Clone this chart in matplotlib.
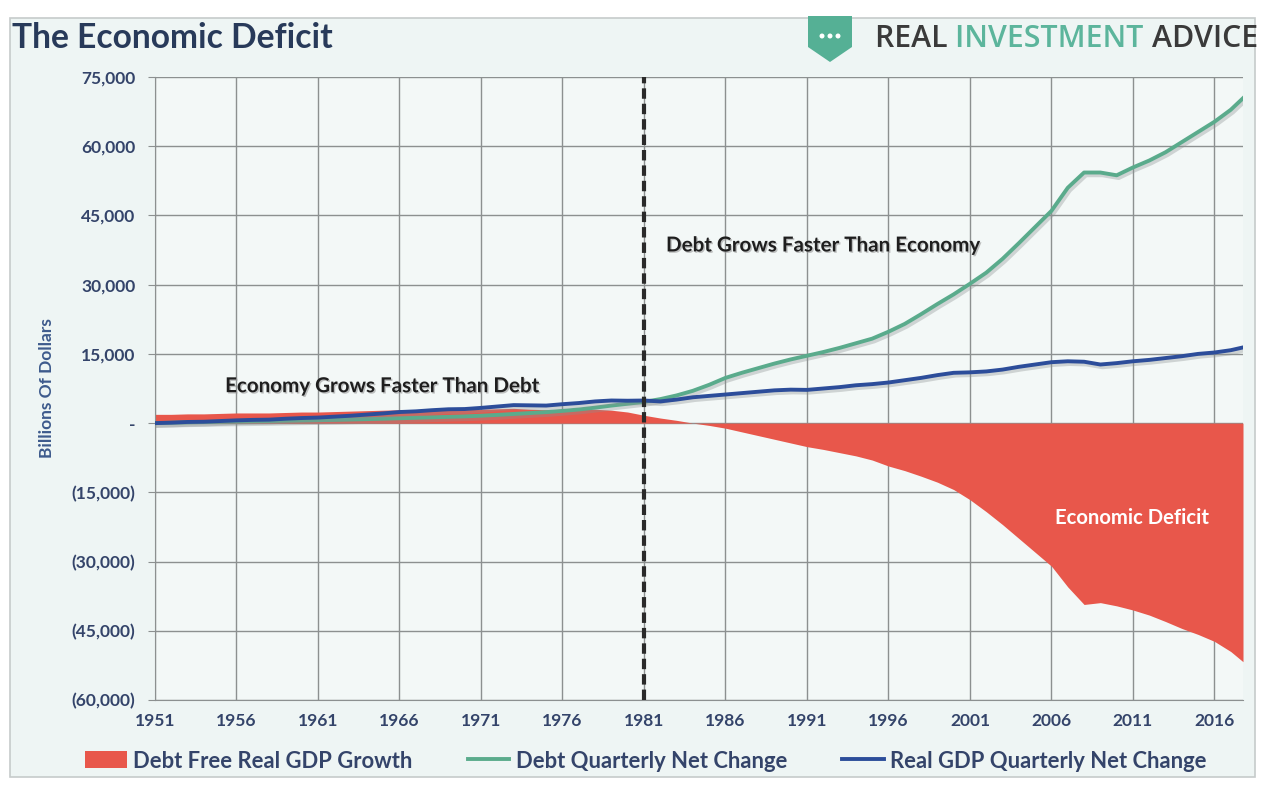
import matplotlib
matplotlib.use("Agg")
import matplotlib.pyplot as plt
import matplotlib.patheffects as pe
from matplotlib.patches import Rectangle, Polygon, Ellipse, Patch
from matplotlib.lines import Line2D
from matplotlib.ticker import FuncFormatter

# Decimal years (last point is the partial year)
years = list(range(1951, 2018)) + [2017.75]

# Billions of dollars, cumulative change since 1951
debt_change = [
    0, 80, 160, 230, 300, 350, 400, 450, 520, 580,
    640, 700, 780, 860, 950, 1050, 1150, 1250, 1360, 1460,
    1600, 1780, 1980, 2180, 2380, 2650, 2950, 3350, 3800, 4200,
    4600, 5200, 6000, 7000, 8300, 9800, 10900, 11900, 12900, 13800,
    14600, 15400, 16300, 17300, 18300, 19800, 21500, 23600, 25800, 27900,
    30200, 32600, 35600, 39000, 42500, 46000, 51000, 54300, 54300, 53700,
    55400, 56900, 58700, 60900, 63100, 65300, 67900, 70400,
]
gdp_change = [
    0, 100, 250, 300, 450, 600, 700, 750, 950, 1100,
    1200, 1400, 1600, 1850, 2100, 2400, 2550, 2800, 3000, 3050,
    3300, 3600, 3900, 3850, 3800, 4100, 4350, 4700, 4900, 4850,
    4900, 4700, 5100, 5600, 5900, 6200, 6500, 6800, 7100, 7250,
    7200, 7500, 7800, 8200, 8450, 8800, 9300, 9800, 10400, 10900,
    11000, 11200, 11600, 12200, 12700, 13200, 13400, 13300, 12700, 13000,
    13400, 13700, 14100, 14500, 15000, 15300, 15800, 16400,
]
debt_free_gdp = [
    1900, 1900, 2000, 2000, 2100, 2200, 2200, 2200, 2300, 2400,
    2400, 2500, 2600, 2700, 2800, 2900, 2900, 3000, 3000, 2900,
    3000, 3100, 3200, 3000, 2900, 3000, 3000, 3000, 2800, 2400,
    1700, 1100, 600, 0, -500, -1100, -1900, -2700, -3500, -4300,
    -5100, -5700, -6400, -7100, -8000, -9300, -10300, -11500, -12800, -14400,
    -16600, -19200, -22000, -25000, -28000, -31000, -35500, -39300, -38900, -39600,
    -40500, -41600, -43000, -44500, -45800, -47300, -49500, -51700,
]

tick_years = list(range(1951, 2017, 5))
y_ticks = list(range(-60000, 75001, 15000))

RED = "#e8574b"
GREEN = "#5aab8c"
BLUE = "#2c4d9a"
NAVY = "#34446a"

plt.rcParams['font.family'] = ['Lato', 'DejaVu Sans']

W, H = 1263, 787
fig = plt.figure(figsize=(W / 100, H / 100), dpi=100, facecolor="white")


def px(x, y):
    return x / W, 1 - y / H


# background panel
fig.add_artist(Rectangle(px(10, 777), 1245 / W, 759 / H, transform=fig.transFigure,
                         facecolor="#eef5f4", edgecolor="#c6cbcb", lw=1.2, zorder=0))

l, b = px(155, 700)
r, t = px(1243, 77)
ax = fig.add_axes([l, b, r - l, t - b])
ax.set_facecolor("#f3f8f7")

ax.fill_between(years, debt_free_gdp, 0, color=RED, lw=0, zorder=2)
shadow = [pe.SimpleLineShadow(offset=(1.5, -2), shadow_color="#8a9090", alpha=0.35), pe.Normal()]
ax.plot(years, debt_change, color=GREEN, lw=2.8, zorder=3, path_effects=shadow)
ax.plot(years, gdp_change, color=BLUE, lw=2.8, zorder=4, path_effects=shadow)

ax.axvline(1981, color="#2a2a2a", lw=3, ls=(0, (2.5, 1.2)), zorder=5)

ax.set_xlim(1951, 2017.75)
ax.set_ylim(-60000, 75000)
ax.set_xticks(tick_years)
ax.set_yticks(y_ticks)


def acct(v, pos):
    if v == 0:
        return "-"
    if v < 0:
        return "({:,.0f})".format(-v)
    return "{:,.0f}".format(v)


ax.yaxis.set_major_formatter(FuncFormatter(acct))
ax.grid(True, color="#8c9090", lw=1.0, zorder=1)
ax.set_axisbelow(True)
for s in ["top", "right"]:
    ax.spines[s].set_visible(False)
for s in ["left", "bottom"]:
    ax.spines[s].set_color("#8c9090")
ax.tick_params(axis="x", length=0, pad=9, labelsize=12.5, labelcolor=NAVY)
ax.tick_params(axis="y", length=5, color="#8c9090", pad=9, labelsize=12.5, labelcolor=NAVY)
for lab in ax.get_xticklabels() + ax.get_yticklabels():
    lab.set_fontweight("bold")

fig.text(*px(47, 388), "Billions Of Dollars", rotation=90, ha="center", va="center",
         fontsize=12.5, fontweight="bold", color="#3d5a8c")

# annotations
txt_shadow = [pe.withSimplePatchShadow(offset=(1, -1), shadow_rgbFace="#9a9a9a", alpha=0.6)]
ax.text(1955.3, 8000, "Economy Grows Faster Than Debt", fontsize=14.8, fontweight="bold",
        color="#1e1e1e", va="center", path_effects=txt_shadow, zorder=6)
ax.text(1982.35, 38500, "Debt Grows Faster Than Economy", fontsize=14.8, fontweight="bold",
        color="#1e1e1e", va="center", path_effects=txt_shadow, zorder=6)
ax.text(2006.2, -20500, "Economic Deficit", fontsize=14.6, fontweight="bold",
        color="white", va="center", zorder=6)

# title and logo
fig.text(*px(12, 38), "The Economic Deficit", fontsize=24.2, fontweight="bold",
         color="#283a5a", va="center", ha="left")
shield = [(808, 16), (852, 16), (852, 47), (830, 62), (808, 47)]
fig.add_artist(Polygon([px(x, y) for x, y in shield], closed=True, transform=fig.transFigure,
                       facecolor="#55b095", edgecolor="none"))
for dx in (822, 830, 838):
    fig.add_artist(Ellipse(px(dx, 36), 5 / W, 5 / H, transform=fig.transFigure,
                           facecolor="white", edgecolor="none"))
logo_x = 875
for word, col in [("REAL ", "#3a3a3a"), ("INVESTMENT ", "#5cb59c"), ("ADVICE", "#3a3a3a")]:
    tx = fig.text(*px(logo_x, 39), word, fontsize=21.8, color=col, va="center", ha="left",
                  fontweight="semibold", family=["Open Sans", "DejaVu Sans"])
    fig.canvas.draw()
    bb = tx.get_window_extent()
    logo_x += bb.width

# legend
handles = [
    Patch(facecolor=RED, edgecolor="none"),
    Line2D([], [], color=GREEN, lw=2.8),
    Line2D([], [], color=BLUE, lw=2.8),
]
labels = ["Debt Free Real GDP Growth", "Debt Quarterly Net Change", "Real GDP Quarterly Net Change"]
leg = fig.legend(handles, labels, loc="center", bbox_to_anchor=px(646, 761), ncol=3,
                 frameon=False, handlelength=1.9, handleheight=0.8, handletextpad=0.3,
                 columnspacing=2.5, prop={"weight": "bold", "size": 15.8})
for tx in leg.get_texts():
    tx.set_color(NAVY)

fig.savefig("out.png", dpi=100, facecolor="white")
